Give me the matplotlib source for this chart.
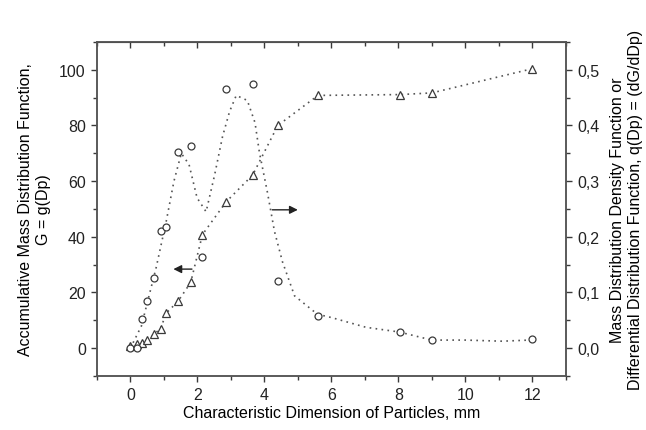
import numpy as np
import matplotlib
matplotlib.use("Agg")
import matplotlib.pyplot as plt
from matplotlib.ticker import MultipleLocator, FuncFormatter

plt.rcParams['font.family'] = ['Liberation Sans', 'DejaVu Sans']

# particle size, mm
dp = [0, 0.2, 0.35, 0.5, 0.7, 0.9, 1.07, 1.42, 1.8, 2.15, 2.86, 3.65, 4.4, 5.6, 8.05, 9.0, 12.0]
# accumulative mass distribution G (triangles, left axis)
g_cum = [0.8, 1.4, 2.0, 3.0, 5.0, 7.0, 12.6, 16.8, 23.6, 40.8, 52.6, 62.2, 80.0, 90.8, 91.1, 91.7, 100.4]
# density function q (circles, right axis)
q_dens = [0.0, 0.0, 0.052, 0.085, 0.126, 0.21, 0.218, 0.352, 0.364, 0.164, 0.466, 0.475,
          0.12, 0.058, 0.029, 0.015, 0.016]

# dotted fit curve drawn through the density points
fit_x = [0, 0.33, 0.77, 1.07, 1.3, 1.52, 1.75, 1.99, 2.26, 2.51, 2.75, 2.96, 3.16, 3.49,
         3.72, 3.85, 4.09, 4.3, 4.54, 4.9, 5.58, 6.0, 7.03, 8.03, 9.0, 10.0, 11.1, 11.9]
fit_q = [0.0, 0.04, 0.145, 0.228, 0.30, 0.35, 0.33, 0.27, 0.245, 0.31, 0.38, 0.425, 0.454, 0.445,
         0.405, 0.352, 0.28, 0.21, 0.155, 0.094, 0.061, 0.055, 0.0375, 0.029, 0.0145, 0.0145, 0.0125, 0.0145]

dot = (0, (1, 2.6))
ink = '#3a3a3a'

fig = plt.figure(figsize=(6.46, 4.31), dpi=100)
ax = fig.add_axes([0.150, 0.1253, 0.726, 0.775])
ax2 = ax.twinx()

ax.plot(dp, g_cum, linestyle=dot, color='#555555', lw=1.2, marker='^', ms=6,
        mfc='white', mec=ink, mew=0.9)
ax2.plot(fit_x, fit_q, linestyle=dot, color='#555555', lw=1.2)
ax2.plot(dp, q_dens, linestyle='none', marker='o', ms=5, mfc='white', mec=ink, mew=0.9)

ax.set_xlim(-1, 13)
ax.set_ylim(-10, 110)
ax2.set_ylim(-0.05, 0.55)

ax.xaxis.set_major_locator(MultipleLocator(2))
ax.xaxis.set_minor_locator(MultipleLocator(1))
ax.yaxis.set_major_locator(MultipleLocator(20))
ax.yaxis.set_minor_locator(MultipleLocator(10))
ax2.yaxis.set_major_locator(MultipleLocator(0.1))
ax2.yaxis.set_minor_locator(MultipleLocator(0.05))
ax2.yaxis.set_major_formatter(FuncFormatter(lambda v, p: f'{v:.1f}'.replace('.', ',')))

for a in (ax, ax2):
    a.tick_params(which='both', direction='out', colors=ink, labelcolor='#222222', labelsize=11.5)
    a.tick_params(which='major', length=4.5, width=1)
    a.tick_params(which='minor', length=3, width=1)
    for s in a.spines.values():
        s.set_color('#555555')
        s.set_linewidth(1.1)

top = ax.secondary_xaxis('top')
top.xaxis.set_major_locator(MultipleLocator(2))
top.xaxis.set_minor_locator(MultipleLocator(1))
top.tick_params(which='both', direction='in', labeltop=False, colors=ink)
top.tick_params(which='major', length=4.5, width=1)
top.tick_params(which='minor', length=3, width=1)

ax.set_xlabel('Characteristic Dimension of Particles, mm', fontsize=11.5, labelpad=2)
ax.set_ylabel('Accumulative Mass Distribution Function,\nG = g(Dp)', fontsize=11.5, labelpad=6)
ax2.set_ylabel('Mass Distribution Density Function or\nDifferential Distribution Function, q(Dp) = (dG/dDp)',
               fontsize=11.5, labelpad=8)

# arrows pointing at the axis each curve belongs to
ax.annotate('', xy=(1.2, 28.4), xytext=(1.92, 28.4),
            arrowprops=dict(arrowstyle='-|>', color='#222222', lw=1, mutation_scale=12))
ax.annotate('', xy=(5.08, 49.7), xytext=(4.15, 49.7),
            arrowprops=dict(arrowstyle='-|>', color='#222222', lw=1, mutation_scale=12))

fig.savefig('out.png', dpi=100)
